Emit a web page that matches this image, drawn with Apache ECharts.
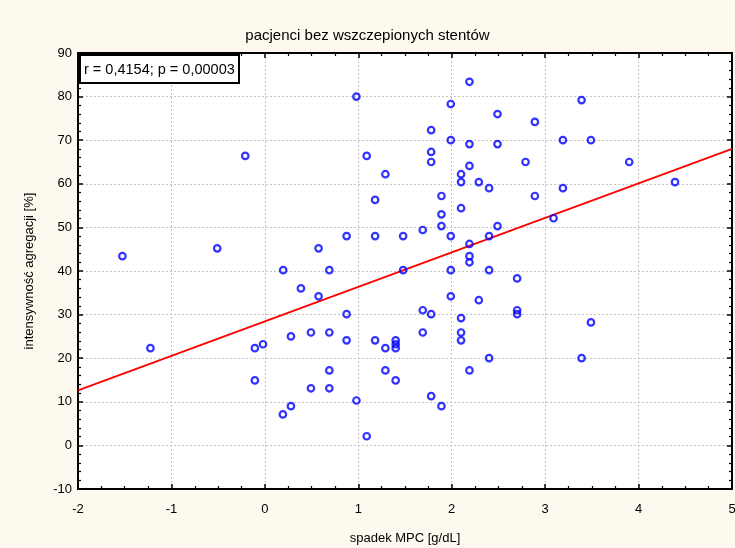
<!DOCTYPE html>
<html>
<head>
<meta charset="utf-8">
<script src="https://cdn.jsdelivr.net/npm/echarts@6/dist/echarts.min.js"></script>
<style>
html,body{margin:0;padding:0;background:#fdf9ee;}
#chart{width:735px;height:548px;}
</style>
</head>
<body>
<div id="chart"></div>
<script>
// Data
const titleText = 'pacjenci bez wszczepionych stentów';
const statsText = 'r = 0,4154; p = 0,00003';
const xAxisName = 'spadek MPC [g/dL]';
const yAxisName = 'intensywność agregacji [%]';

const xValues = [
  0.98, -0.21, 1.09, 1.29, 1.18, -1.525, -0.51, 0.575, 0.875, 1.18,
  1.48, 0.196, 0.69, 1.48, 0.386, 0.575, 0.875, -1.225, -0.107, -0.02,
  0.279, 0.493, 0.69, 0.875, 1.18, 1.29, 1.40, 1.40, 1.40, -0.107,
  0.69, 1.29, 1.40, 0.493, 0.69, 0.98, 0.279, 0.193, 1.09,
  2.19, 1.99, 3.39, 2.49, 2.89, 1.78, 1.99, 2.19, 2.49, 3.19,
  3.49, 1.78, 1.78, 2.79, 3.90, 2.19, 2.10, 2.10, 2.29, 2.40,
  3.19, 4.39, 2.89, 1.89, 2.10, 1.89, 3.09, 1.69, 1.89, 2.49,
  1.99, 2.40, 2.19, 2.19, 2.19, 1.99, 2.40, 2.70, 1.99, 2.29,
  1.69, 1.78, 2.70, 2.70, 2.10, 3.49, 1.69, 2.10, 2.10, 2.40,
  3.39, 2.19, 1.78, 1.89
];
const yValues = [
  80.0, 66.4, 66.4, 62.2, 56.3, 43.4, 45.2, 45.2, 48.0, 48.0,
  48.0, 40.2, 40.2, 40.2, 36.0, 34.2, 30.1, 22.3, 22.3, 23.2,
  25.0, 25.9, 25.9, 24.1, 24.1, 22.3, 24.1, 23.2, 22.3, 14.9,
  17.2, 17.2, 14.9, 13.1, 13.1, 10.3, 9.0, 7.1, 2.1,
  83.4, 78.3, 79.2, 76.0, 74.2, 72.3, 70.0, 69.1, 69.1, 70.0,
  70.0, 67.3, 65.0, 65.0, 65.0, 64.1, 62.2, 60.4, 60.4, 59.0,
  59.0, 60.4, 57.2, 57.2, 54.4, 53.0, 52.1, 49.4, 50.3, 50.3,
  48.0, 48.0, 46.2, 43.4, 42.0, 40.2, 40.2, 38.3, 34.2, 33.3,
  31.0, 30.1, 31.0, 30.1, 29.2, 28.2, 25.9, 25.9, 24.1, 20.0,
  20.0, 17.2, 11.3, 9.0
];
// Regression line end points
const lineX = [-2, 5];
const lineY = [12.6, 68.0];

const xTicks = { min: -2, max: 5, interval: 1 };
const yTicks = { min: -10, max: 90, interval: 10 };

const points = xValues.map((x, i) => [x, yValues[i]]);
const linePts = lineX.map((x, i) => [x, lineY[i]]);

const font = 'Liberation Sans, Arial, sans-serif';
const chart = echarts.init(document.getElementById('chart'));

const tickStyle = { show: true, inside: true, length: 5, lineStyle: { color: '#000', width: 1.5 } };
const minorStyle = { show: true, length: 3, lineStyle: { color: '#000', width: 1.2 } };
const gridLine = { show: true, lineStyle: { color: '#c4c4c4', type: [2, 2], width: 1 } };

chart.setOption({
  backgroundColor: '#fdf9ee',
  animation: false,
  title: [
    { text: titleText, left: 'center', top: 23,
      textStyle: { fontFamily: font, fontSize: 15, fontWeight: 'normal', color: '#000' } },
    { text: statsText, left: 80, top: 55, padding: [7, 4, 6, 4],
      backgroundColor: '#fff', borderColor: '#000', borderWidth: 2,
      textStyle: { fontFamily: font, fontSize: 14.5, fontWeight: 'normal', color: '#000' } }
  ],
  grid: { left: 78, right: 3, top: 53, bottom: 59, outerBoundsMode: 'none', containLabel: false,
    show: true, backgroundColor: '#fff', borderColor: '#000', borderWidth: 0 },
  xAxis: [
    { type: 'value', min: xTicks.min, max: xTicks.max, interval: xTicks.interval, position: 'bottom',
      name: xAxisName, nameLocation: 'middle', nameGap: 43,
      nameTextStyle: { fontFamily: font, fontSize: 13, color: '#000' },
      axisLine: { show: true, onZero: false, lineStyle: { color: '#000', width: 2 } },
      axisTick: tickStyle, minorTick: Object.assign({ splitNumber: 4 }, minorStyle),
      axisLabel: { fontFamily: font, fontSize: 13, color: '#000', margin: 14 },
      splitLine: gridLine },
    { type: 'value', min: xTicks.min, max: xTicks.max, interval: xTicks.interval, position: 'top',
      axisLine: { show: true, onZero: false, lineStyle: { color: '#000', width: 2 } },
      axisTick: tickStyle, minorTick: Object.assign({ splitNumber: 4 }, minorStyle),
      axisLabel: { show: false }, splitLine: { show: false } }
  ],
  yAxis: [
    { type: 'value', min: yTicks.min, max: yTicks.max, interval: yTicks.interval, position: 'left',
      name: yAxisName, nameLocation: 'middle', nameGap: 42, nameRotate: 90,
      nameTextStyle: { fontFamily: font, fontSize: 13, color: '#000' },
      axisLine: { show: true, onZero: false, lineStyle: { color: '#000', width: 2 } },
      axisTick: tickStyle, minorTick: Object.assign({ splitNumber: 5 }, minorStyle),
      axisLabel: { fontFamily: font, fontSize: 13, color: '#000', margin: 6 },
      splitLine: gridLine },
    { type: 'value', min: yTicks.min, max: yTicks.max, interval: yTicks.interval, position: 'right',
      axisLine: { show: true, onZero: false, lineStyle: { color: '#000', width: 2 } },
      axisTick: tickStyle, minorTick: Object.assign({ splitNumber: 5 }, minorStyle),
      axisLabel: { show: false }, splitLine: { show: false } }
  ],
  series: [
    { type: 'line', data: linePts, symbol: 'none', xAxisIndex: 0, yAxisIndex: 0,
      lineStyle: { color: '#ff0000', width: 1.8 }, z: 2, silent: true },
    { type: 'scatter', data: points, xAxisIndex: 0, yAxisIndex: 0,
      symbol: 'circle', symbolSize: 6.5,
      itemStyle: { color: 'transparent', borderColor: '#0000ff', borderWidth: 2.2 }, z: 3 }
  ]
});
</script>
</body>
</html>
